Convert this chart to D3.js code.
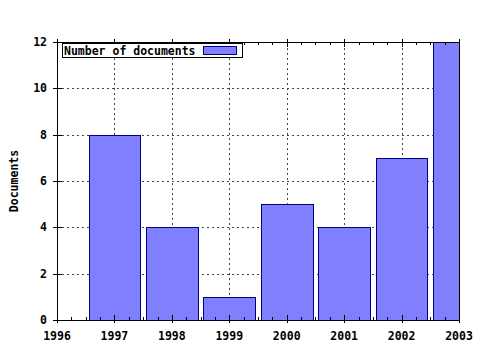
<!DOCTYPE html>
<html>
<head>
<meta charset="utf-8">
<script src="https://cdn.jsdelivr.net/npm/d3@7"></script>
<style>
  body { margin: 0; background: #fff; }
  text { font-family: "DejaVu Sans Mono", monospace; font-weight: bold; font-size: 11.5px; fill: #000; }
</style>
</head>
<body>
<div id="chart-area"></div>
<script>
const years = [1997, 1998, 1999, 2000, 2001, 2002, 2003];
const documents = [8, 4, 1, 5, 4, 7, 12];
const xTicks = [1996, 1997, 1998, 1999, 2000, 2001, 2002, 2003];
const yTicks = [0, 2, 4, 6, 8, 10, 12];

const width = 480, height = 350;
const margin = { left: 57, right: 21, top: 42, bottom: 30 };

const svg = d3.select("#chart-area")
    .append("svg")
    .attr("width", width)
    .attr("height", height);

const x = d3.scaleLinear()
    .domain([1996, 2003])
    .range([margin.left, width - margin.right]);

const y = d3.scaleLinear()
    .domain([0, 12])
    .range([height - margin.bottom, margin.top]);

svg.append("clipPath").attr("id", "plot")
    .append("rect")
    .attr("x", x(1996)).attr("y", y(12))
    .attr("width", x(2003) - x(1996)).attr("height", y(0) - y(12));

// grid
const grid = svg.append("g")
    .attr("stroke", "#444")
    .attr("stroke-dasharray", "2,3")
    .attr("shape-rendering", "crispEdges");

grid.selectAll("line.gx")
    .data(xTicks.slice(1, -1))
    .join("line")
    .attr("class", "gx")
    .attr("x1", d => Math.round(x(d)) + 0.5).attr("x2", d => Math.round(x(d)) + 0.5)
    .attr("y1", y(0)).attr("y2", y(12));

grid.selectAll("line.gy")
    .data(yTicks.slice(1, -1))
    .join("line")
    .attr("class", "gy")
    .attr("y1", d => Math.round(y(d)) + 0.5).attr("y2", d => Math.round(y(d)) + 0.5)
    .attr("x1", x(1996)).attr("x2", x(2003));

// bars
const barW = 0.9;
svg.append("g")
    .attr("clip-path", "url(#plot)")
    .selectAll("rect")
    .data(years)
    .join("rect")
    .attr("x", d => Math.round(x(d - barW / 2)) + 0.5)
    .attr("width", d => Math.round(x(d + barW / 2)) - Math.round(x(d - barW / 2)))
    .attr("y", (d, i) => Math.round(y(documents[i])) + 0.5)
    .attr("height", (d, i) => Math.round(y(0)) - Math.round(y(documents[i])))
    .attr("fill", "#8080ff")
    .attr("stroke", "#000080")
    .attr("stroke-width", 1);

// border
svg.append("rect")
    .attr("x", Math.round(x(1996)) + 0.5)
    .attr("y", Math.round(y(12)) + 0.5)
    .attr("width", Math.round(x(2003)) - Math.round(x(1996)))
    .attr("height", Math.round(y(0)) - Math.round(y(12)))
    .attr("fill", "none")
    .attr("stroke", "#000");

// ticks
const ticks = svg.append("g").attr("stroke", "#000").attr("shape-rendering", "crispEdges");
const minorX = d3.range(1996, 2003.01, 0.25).filter(v => !xTicks.includes(v));

ticks.selectAll("line.mx")
    .data(xTicks)
    .join("line")
    .attr("class", "mx")
    .attr("x1", d => Math.round(x(d)) + 0.5).attr("x2", d => Math.round(x(d)) + 0.5)
    .attr("y1", y(0) + 3).attr("y2", y(0) - 5);

ticks.selectAll("line.mxt")
    .data(xTicks)
    .join("line")
    .attr("class", "mxt")
    .attr("x1", d => Math.round(x(d)) + 0.5).attr("x2", d => Math.round(x(d)) + 0.5)
    .attr("y1", y(12) - 3).attr("y2", y(12) + 5);

ticks.selectAll("line.nx")
    .data(minorX)
    .join("line")
    .attr("class", "nx")
    .attr("x1", d => Math.round(x(d)) + 0.5).attr("x2", d => Math.round(x(d)) + 0.5)
    .attr("y1", y(0)).attr("y2", y(0) - 3);

ticks.selectAll("line.nxt")
    .data(minorX)
    .join("line")
    .attr("class", "nxt")
    .attr("x1", d => Math.round(x(d)) + 0.5).attr("x2", d => Math.round(x(d)) + 0.5)
    .attr("y1", y(12)).attr("y2", y(12) + 3);

ticks.selectAll("line.my")
    .data(yTicks)
    .join("line")
    .attr("class", "my")
    .attr("y1", d => Math.round(y(d)) + 0.5).attr("y2", d => Math.round(y(d)) + 0.5)
    .attr("x1", x(1996) - 4).attr("x2", x(1996) + 5);

// tick labels
svg.append("g")
    .selectAll("text")
    .data(yTicks)
    .join("text")
    .attr("x", x(1996) - 10)
    .attr("y", d => y(d))
    .attr("dy", "0.35em")
    .attr("text-anchor", "end")
    .text(d => d);

svg.append("g")
    .selectAll("text")
    .data(xTicks)
    .join("text")
    .attr("x", d => x(d))
    .attr("y", y(0) + 20)
    .attr("text-anchor", "middle")
    .text(d => d);

// axis title
svg.append("text")
    .attr("transform", "translate(18," + ((y(0) + y(12)) / 2) + ") rotate(-90)")
    .attr("text-anchor", "middle")
    .text("Documents");

// legend
const legend = svg.append("g");
legend.append("rect")
    .attr("x", 62.5).attr("y", 43.5)
    .attr("width", 180).attr("height", 14)
    .attr("fill", "#fff").attr("stroke", "#000");
legend.append("text")
    .attr("x", 64).attr("y", 54.5)
    .text("Number of documents");
legend.append("rect")
    .attr("x", 203.5).attr("y", 46.5)
    .attr("width", 33).attr("height", 8)
    .attr("fill", "#8080ff").attr("stroke", "#000080");
</script>
</body>
</html>
